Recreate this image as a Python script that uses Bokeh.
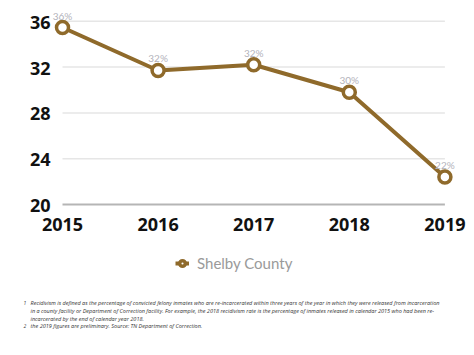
from bokeh.plotting import figure
from bokeh.models import Range1d, Legend, LegendItem, Label, ColumnDataSource
from bokeh.core.properties import value
from bokeh.embed import file_html
from bokeh.resources import INLINE

years = [2015, 2016, 2017, 2018, 2019]
year_labels = ["2015", "2016", "2017", "2018", "2019"]
rates = [35.45, 31.7, 32.2, 29.8, 22.4]
rate_labels = ["36%", "32%", "32%", "30%", "22%"]
y_ticks = [20, 24, 28, 32, 36]
y_tick_labels = ["20", "24", "28", "32", "36"]
series_name = "Shelby County"
footnotes = [
    ("1", "Recidivism is defined as the percentage of convicted  felony inmates who are re-incarcerated within  three years of the year in which  they were released from incarceration"),
    ("", "in a county facility or Department of  Correction facility. For example, the 2018 recidivism rate is the percentage of inmates released in calendar 2015 who had been re-"),
    ("", "incarcerated by the end of calendar year 2018."),
    ("2", "the 2019 figures are preliminary.  Source: TN Department of  Correction."),
]

BROWN = "#8f6a2b"
W, H = 466, 347
px_per_year = 95.6
px_per_unit = 11.46
x_first_px = 62           # screen x of first year
y36_px = 20.7             # screen y of top tick

p = figure(width=W, height=H, output_backend="svg", toolbar_location=None,
           min_border_left=0, min_border_right=0, min_border_top=0, min_border_bottom=0)
x0 = years[0] - x_first_px / px_per_year
p.x_range = Range1d(x0, x0 + W / px_per_year)
ytop = y_ticks[-1] + y36_px / px_per_unit
p.y_range = Range1d(ytop - H / px_per_unit, ytop)
p.outline_line_color = None
p.background_fill_color = "white"
p.border_fill_color = "white"
p.xgrid.visible = False
p.ygrid.visible = False
p.xaxis.visible = False
p.yaxis.visible = False

# grid lines spanning first to last year
grid_colors = ["#b5b5b5"] + ["#e6e6e6"] * (len(y_ticks) - 1)
grid_widths = [2] + [1.5] * (len(y_ticks) - 1)
p.segment(x0=[years[0]] * len(y_ticks), x1=[years[-1]] * len(y_ticks), y0=y_ticks, y1=y_ticks,
          line_color=grid_colors, line_width=grid_widths)

src = ColumnDataSource(dict(x=years, y=rates, lab=rate_labels))
ln = p.line("x", "y", source=src, line_color=BROWN, line_width=4)
pts = p.scatter("x", "y", source=src, size=12, fill_color="white", line_color=BROWN, line_width=3.5)
p.text("x", "y", text="lab", source=src, text_align="center", text_baseline="middle",
       y_offset=-12, text_font=value("Lato"), text_font_size="10px", text_color="#b3b3bb")

# year labels under the baseline
p.text(x=years, y=[y_ticks[0]] * len(years), text=year_labels, text_align="center",
       text_baseline="middle", y_offset=20, text_font=value("Open Sans"),
       text_font_style="bold", text_font_size="18px", text_color="#111111")

# value-axis labels left of the first year
p.text(x=[years[0]] * len(y_ticks), y=y_ticks, text=y_tick_labels, text_align="right",
       text_baseline="middle", x_offset=-12, y_offset=1, text_font=value("Open Sans"),
       text_font_style="bold", text_font_size="18px", text_color="#111111")

legend = Legend(items=[LegendItem(label=series_name, renderers=[ln, pts])],
                location=(175, H - 273), orientation="horizontal",
                glyph_width=14, glyph_height=20, label_standoff=8, padding=0, margin=0,
                border_line_color=None, background_fill_alpha=0,
                label_text_font="Lato", label_text_font_size="15px", label_text_color="#9a9a9a")
p.add_layout(legend, "center")

ys = [302, 310, 318, 325]
for (num, txt), yy in zip(footnotes, ys):
    if num:
        p.add_layout(Label(x=23, y=H - yy, x_units="screen", y_units="screen", text=num,
                           text_font="Open Sans", text_font_style="italic", text_font_size="5px",
                           text_color="#333333", text_baseline="middle"))
    p.add_layout(Label(x=30, y=H - yy, x_units="screen", y_units="screen", text=txt,
                       text_font="Open Sans", text_font_style="italic", text_font_size="5.5px",
                       text_color="#333333", text_baseline="middle"))

open("out.html", "w").write(file_html(p, INLINE))
